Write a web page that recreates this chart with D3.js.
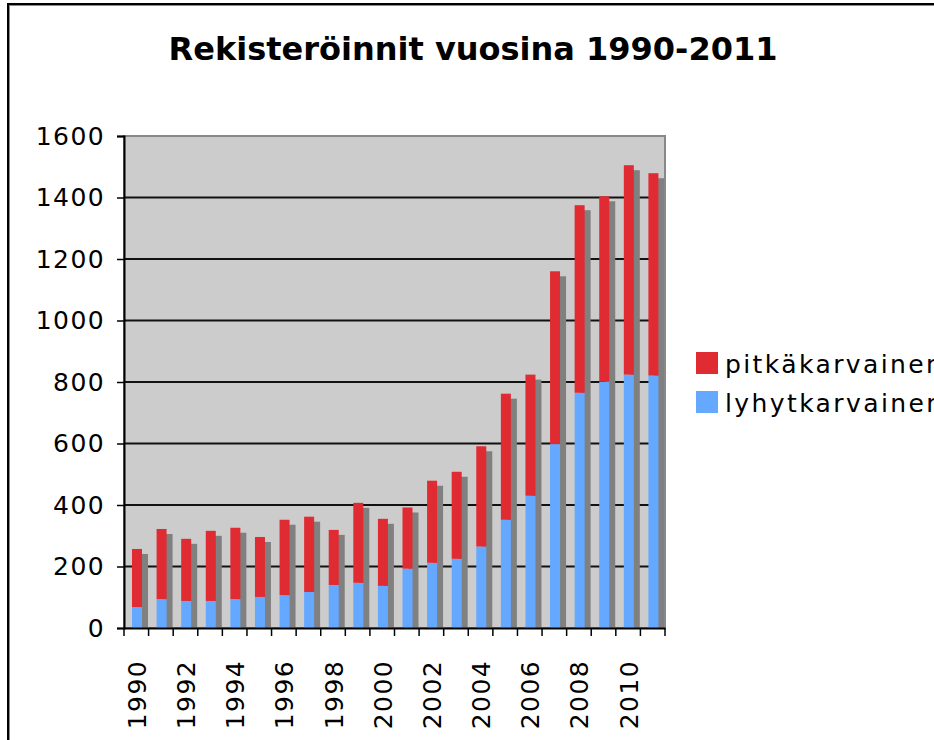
<!DOCTYPE html>
<html>
<head>
<meta charset="utf-8">
<script src="https://cdn.jsdelivr.net/npm/d3@7"></script>
<style>
  html, body { margin: 0; padding: 0; background: #fff; }
  svg { display: block; }
  text { font-family: "DejaVu Sans", Verdana, sans-serif; fill: #000; }
</style>
</head>
<body>
<svg id="chart" width="934" height="740"></svg>
<script>
const years = ["1990","1991","1992","1993","1994","1995","1996","1997","1998","1999","2000","2001","2002","2003","2004","2005","2006","2007","2008","2009","2010","2011"];
const lyhytkarvainen = [68, 94, 88, 88, 94, 101, 107, 117, 140, 147, 137, 193, 212, 225, 265, 352, 430, 598, 765, 801, 824, 821];
const pitkakarvainen = [189, 228, 202, 228, 232, 195, 245, 245, 179, 260, 218, 199, 267, 283, 326, 410, 394, 562, 610, 603, 681, 658];
const yTicks = [0, 200, 400, 600, 800, 1000, 1200, 1400, 1600];
const xTickLabels = ["1990","1992","1994","1996","1998","2000","2002","2004","2006","2008","2010"];
const seriesNames = ["pitkäkarvainen", "lyhytkarvainen"];
const title = "Rekisteröinnit vuosina 1990-2011";

const colors = { pitka: "#DF2B31", lyhyt: "#64A9FF", shadow: "#808080", plot: "#CCCCCC" };

const svg = d3.select("#chart");
const L = 124, R = 665, T = 136, B = 628;

// outer border
svg.append("rect").attr("x", 8).attr("y", 4).attr("width", 1000).attr("height", 800)
  .attr("fill", "none").attr("stroke", "#000").attr("stroke-width", 2);
svg.append("line").attr("x1", 9.5).attr("x2", 9.5).attr("y1", 5).attr("y2", 740).attr("stroke", "#888").attr("stroke-width", 1);
svg.append("line").attr("x1", 9).attr("x2", 934).attr("y1", 5.5).attr("y2", 5.5).attr("stroke", "#888").attr("stroke-width", 1);

// title
svg.append("text").attr("x", 473).attr("y", 60).attr("text-anchor", "middle")
  .style("font-weight", "bold").style("font-size", "32px").text(title);

const x = d3.scaleBand().domain(years).range([L, R]).paddingInner(0).paddingOuter(0);
const y = d3.scaleLinear().domain([0, 1600]).range([B, T]);

// plot area
svg.append("rect").attr("x", L).attr("y", T).attr("width", R - L).attr("height", B - T)
  .attr("fill", colors.plot).attr("stroke", "#888").attr("stroke-width", 2);

// gridlines
svg.append("g").selectAll("line").data(yTicks.filter(d => d > 0 && d < 1600)).join("line")
  .attr("x1", L).attr("x2", R).attr("y1", d => y(d)).attr("y2", d => y(d))
  .attr("stroke", "#111").attr("stroke-width", 2);

const data = years.map((yr, i) => ({ year: yr, lyhyt: lyhytkarvainen[i], pitka: pitkakarvainen[i] }));
const stack = d3.stack().keys(["lyhyt", "pitka"])(data);

const barOff = 8, barW = 10, shX = 6, shY = 5;

// shadows
svg.append("g").selectAll("rect").data(data).join("rect")
  .attr("x", d => x(d.year) + barOff + shX)
  .attr("y", d => y(d.lyhyt + d.pitka) + shY)
  .attr("width", barW)
  .attr("height", d => B - (y(d.lyhyt + d.pitka) + shY))
  .attr("fill", colors.shadow);

// stacked bars
svg.append("g").selectAll("g").data(stack).join("g")
  .attr("fill", s => colors[s.key])
  .selectAll("rect").data(s => s).join("rect")
  .attr("x", d => x(d.data.year) + barOff)
  .attr("y", d => y(d[1]))
  .attr("width", barW)
  .attr("height", d => y(d[0]) - y(d[1]));

// right border over shadows
svg.append("line").attr("x1", R).attr("x2", R).attr("y1", T - 1).attr("y2", B).attr("stroke", "#888").attr("stroke-width", 2);

// y axis
const yAxis = d3.axisLeft(y).tickValues(yTicks).tickSize(7).tickPadding(12).tickFormat(d3.format("d"));
const gy = svg.append("g").attr("transform", `translate(${L},0)`).call(yAxis);
gy.select(".domain").attr("stroke", "#000").attr("stroke-width", 2);
gy.selectAll(".tick line").attr("stroke", "#000").attr("stroke-width", 1.5);
gy.selectAll(".tick text").style("font-size", "25px").style("letter-spacing", "1.4px")
  .style("font-family", "DejaVu Sans, Verdana, sans-serif").attr("fill", "#000");

// x axis
const xAxis = d3.axisBottom(x).tickSize(0).tickFormat(d => xTickLabels.includes(d) ? d : "");
const gx = svg.append("g").attr("transform", `translate(0,${B})`).call(xAxis);
gx.select(".domain").attr("stroke", "#000").attr("stroke-width", 2);
gx.selectAll(".tick text")
  .style("font-size", "25px").style("letter-spacing", "1.4px")
  .style("font-family", "DejaVu Sans, Verdana, sans-serif").attr("fill", "#000")
  .attr("text-anchor", "end")
  .attr("transform", "rotate(-90)")
  .attr("x", -32).attr("y", 0).attr("dy", "0.38em");
// boundary ticks
const bounds = years.map(d => x(d)).concat([R]);
svg.append("g").selectAll("line").data(bounds).join("line")
  .attr("x1", d => d).attr("x2", d => d).attr("y1", B).attr("y2", B + 8)
  .attr("stroke", "#000").attr("stroke-width", 1.5);

// legend
const legend = svg.append("g");
const legItems = [{ name: seriesNames[0], color: colors.pitka, y: 352 }, { name: seriesNames[1], color: colors.lyhyt, y: 391 }];
legItems.forEach(it => {
  legend.append("rect").attr("x", 696).attr("y", it.y).attr("width", 22).attr("height", 22).attr("fill", it.color);
  legend.append("text").attr("x", 725).attr("y", it.y + 21).style("font-size", "25px").style("letter-spacing", "2.4px").text(it.name);
});
</script>
</body>
</html>
